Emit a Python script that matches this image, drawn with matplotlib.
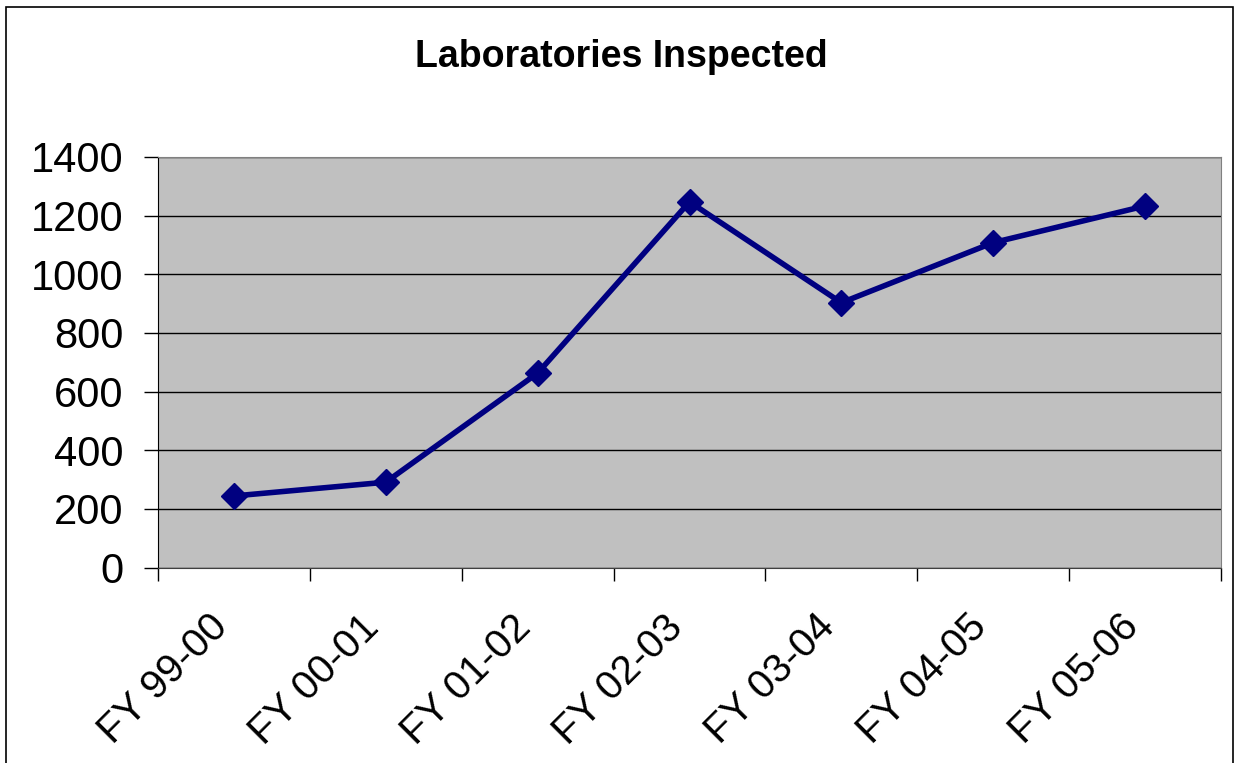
import matplotlib.pyplot as plt
from matplotlib.patches import Rectangle
from matplotlib.transforms import ScaledTranslation

categories = ["FY 99-00", "FY 00-01", "FY 01-02", "FY 02-03", "FY 03-04", "FY 04-05", "FY 05-06"]
labs_inspected = [244, 291, 663, 1247, 903, 1108, 1233]
y_ticks = [0, 200, 400, 600, 800, 1000, 1200, 1400]

plt.rcParams['font.family'] = ['Liberation Sans', 'DejaVu Sans']

fig = plt.figure(figsize=(12.35, 7.63), dpi=100)
ax = fig.add_axes([158 / 1235, 1 - 567.5 / 763, (1221 - 158) / 1235, (567.5 - 157) / 763])
ax.set_facecolor('#c0c0c0')

x = list(range(len(categories)))
ax.plot(x, labs_inspected, color='#000080', linewidth=4, marker='D', markersize=13,
        zorder=3, clip_on=False)

ax.set_xlim(-0.5, len(categories) - 0.5)
ax.set_ylim(0, 1400)
ax.set_yticks(y_ticks)
ax.tick_params(axis='y', labelsize=30, length=10, width=1, direction='out', pad=15)
ax.yaxis.grid(True, color='black', linewidth=1)
ax.set_axisbelow(True)

# ticks on category boundaries, labels on category centres
ax.set_xticks([i - 0.5 for i in range(len(categories) + 1)])
ax.set_xticklabels([])
ax.tick_params(axis='x', which='major', length=9, width=1, direction='out')
ax.set_xticks(x, minor=True)
ax.set_xticklabels(categories, minor=True, rotation=45, ha='right', va='top', fontsize=29)
ax.tick_params(axis='x', which='minor', length=0, pad=29)
shift = ScaledTranslation(1 / 100, 0, fig.dpi_scale_trans)
for lbl in ax.get_xticklabels(minor=True):
    lbl.set_transform(lbl.get_transform() + shift)

for side in ['top', 'right']:
    ax.spines[side].set_color('#808080')
ax.spines['bottom'].set_color('#404040')
ax.spines['left'].set_color('black')

fig.text(0.503, 1 - 57 / 763, "Laboratories Inspected", ha='center', va='center',
         fontsize=27, fontweight='bold')

fig.patches.append(Rectangle((6 / 1235, -0.01), (1233 - 6) / 1235, 1.01 - 7 / 763,
                             transform=fig.transFigure, fill=False,
                             edgecolor='black', linewidth=1.2))

fig.savefig('out.png', dpi=100)
